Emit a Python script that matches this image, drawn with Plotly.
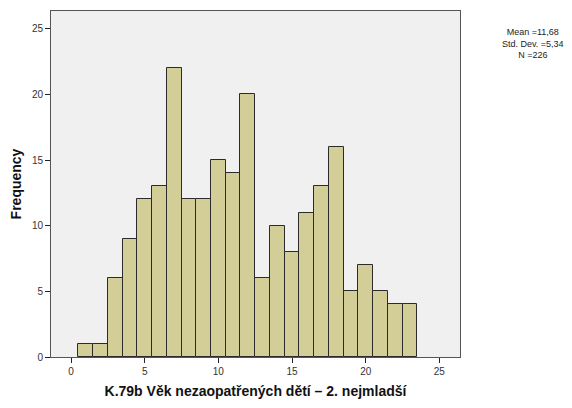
import plotly.graph_objects as go

ages = list(range(1, 24))
frequency = [1, 1, 6, 9, 12, 13, 22, 12, 12, 15, 14, 20, 6, 10, 8, 11, 13, 16, 5, 7, 5, 4, 4]
x_ticks = [0, 5, 10, 15, 20, 25]
y_ticks = [0, 5, 10, 15, 20, 25]
stats_lines = ["Mean =11,68", "Std. Dev. =5,34", "N =226"]
x_title = "K.79b Věk nezaopatřených dětí – 2. nejmladší"
y_title = "Frequency"

# page body has an 8px margin; figure sized to fit the 572x408 window
OFF = 8
W, H = 572 - 2 * OFF, 408 - 2 * OFF
L, T = 51 - OFF, 11 - OFF
R = W - (460 - OFF)
B = H - (357 - OFF)
pw, ph = W - L - R, H - T - B

fig = go.Figure()
fig.add_trace(go.Bar(
    x=ages, y=frequency, width=1,
    marker=dict(color="#D3CE97", line=dict(color="#2b2b2b", width=1)),
    showlegend=False,
))

fig.update_layout(
    width=W, height=H,
    margin=dict(l=L, r=R, t=T, b=B, autoexpand=False),
    paper_bgcolor="white",
    plot_bgcolor="#F0F0F0",
    font=dict(family="Arial, Liberation Sans, sans-serif", size=10, color="#333333"),
    bargap=0,
)
fig.update_xaxes(
    range=[-1.36, 26.4], tickvals=x_ticks, ticks="outside", ticklen=5,
    tickcolor="#222", showline=True, linecolor="#555", linewidth=1, mirror=True,
    showgrid=False, zeroline=False, automargin=False,
    title=dict(text="<b>" + x_title + "</b>", font=dict(size=14, color="#111"), standoff=10),
)
fig.update_yaxes(
    range=[0, 26.35], tickvals=y_ticks, ticks="outside", ticklen=5,
    tickcolor="#222", showline=True, linecolor="#555", linewidth=1, mirror=True,
    showgrid=False, zeroline=False, automargin=False,
    title=dict(text="<b>" + y_title + "</b>", font=dict(size=14, color="#111"), standoff=8),
)
fig.add_annotation(
    x=(533 - OFF - L) / pw, y=1 - (44 - OFF - T) / ph, xref="paper", yref="paper",
    text="<br>".join(stats_lines), xanchor="center", yanchor="middle",
    showarrow=False, font=dict(size=9, color="#222"), align="center",
)
fig.write_html("out.html")
